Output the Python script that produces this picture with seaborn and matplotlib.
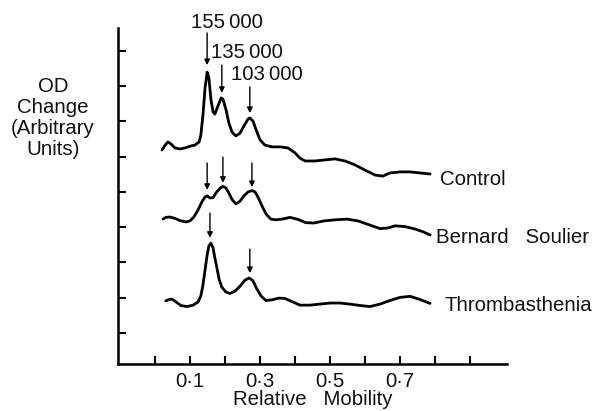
import matplotlib
matplotlib.use("Agg")
import matplotlib.pyplot as plt
import seaborn as sns
import pandas as pd

# ---- data (relative mobility, OD change in arbitrary units) ----
control_x = [0.020, 0.029, 0.037, 0.046, 0.057, 0.071, 0.086, 0.100, 0.114, 0.126,
             0.131, 0.137, 0.143, 0.149, 0.154, 0.160, 0.166, 0.171, 0.180, 0.189,
             0.194, 0.203, 0.211, 0.220, 0.231, 0.243, 0.254, 0.266, 0.271, 0.280,
             0.289, 0.300, 0.314, 0.334, 0.357, 0.380, 0.400, 0.414, 0.429, 0.457,
             0.486, 0.514, 0.543, 0.571, 0.600, 0.629, 0.651, 0.671, 0.700, 0.729,
             0.757, 0.786]
control_y = [6.19, 6.33, 6.42, 6.36, 6.25, 6.22, 6.25, 6.30, 6.33, 6.42,
             6.62, 7.18, 7.95, 8.40, 8.23, 7.61, 7.27, 7.21, 7.44, 7.67,
             7.64, 7.33, 6.96, 6.70, 6.59, 6.67, 6.87, 7.07, 7.10, 7.01,
             6.76, 6.48, 6.33, 6.28, 6.28, 6.25, 6.11, 5.96, 5.88, 5.88,
             5.91, 5.94, 5.88, 5.77, 5.62, 5.48, 5.45, 5.54, 5.57, 5.57,
             5.54, 5.51]

bernard_x = [0.023, 0.031, 0.043, 0.057, 0.071, 0.089, 0.100, 0.111, 0.123, 0.134,
             0.143, 0.149, 0.157, 0.166, 0.174, 0.186, 0.194, 0.203, 0.211, 0.220,
             0.231, 0.243, 0.254, 0.266, 0.277, 0.286, 0.294, 0.306, 0.317, 0.331,
             0.346, 0.363, 0.386, 0.409, 0.431, 0.454, 0.483, 0.514, 0.549, 0.580,
             0.609, 0.643, 0.666, 0.686, 0.714, 0.743, 0.766, 0.786]
bernard_y = [4.23, 4.28, 4.29, 4.25, 4.19, 4.15, 4.18, 4.29, 4.49, 4.72,
             4.86, 4.89, 4.83, 4.84, 4.97, 5.11, 5.16, 5.11, 4.97, 4.79,
             4.66, 4.74, 4.89, 5.00, 5.04, 5.00, 4.86, 4.60, 4.38, 4.23,
             4.21, 4.23, 4.28, 4.22, 4.13, 4.12, 4.18, 4.21, 4.23, 4.18,
             4.08, 3.96, 3.98, 4.04, 4.02, 3.95, 3.87, 3.78]

thromb_x = [0.031, 0.040, 0.049, 0.060, 0.074, 0.091, 0.109, 0.123, 0.131, 0.137,
            0.143, 0.149, 0.154, 0.160, 0.166, 0.171, 0.177, 0.183, 0.191, 0.203,
            0.214, 0.229, 0.243, 0.257, 0.269, 0.280, 0.291, 0.303, 0.317, 0.334,
            0.354, 0.371, 0.394, 0.414, 0.443, 0.471, 0.500, 0.529, 0.557, 0.586,
            0.614, 0.643, 0.671, 0.700, 0.729, 0.757, 0.786]
thromb_y = [1.91, 1.95, 1.96, 1.88, 1.78, 1.75, 1.79, 1.88, 2.05, 2.36,
            2.79, 3.21, 3.47, 3.55, 3.41, 3.13, 2.84, 2.53, 2.30, 2.16,
            2.12, 2.19, 2.33, 2.50, 2.56, 2.48, 2.25, 2.05, 1.92, 1.94,
            1.99, 1.98, 1.88, 1.79, 1.79, 1.82, 1.85, 1.85, 1.82, 1.78,
            1.75, 1.82, 1.92, 2.01, 2.04, 1.95, 1.84]

trace_names = ["Control", "Bernard   Soulier", "Thrombasthenia"]
trace_label_pos = [(0.814, 5.20), (0.803, 3.54), (0.826, 1.63)]

# arrows: (x, tail_y, head_y)
arrows = [(0.149, 9.51, 8.60), (0.191, 8.60, 7.81), (0.271, 7.98, 7.24),
          (0.149, 5.82, 5.06), (0.194, 5.99, 5.26), (0.277, 5.82, 5.14),
          (0.157, 4.40, 3.70), (0.271, 3.38, 2.70)]
mw_labels = ["155\u2009000", "135\u2009000", "103\u2009000"]
mw_label_pos = [(0.206, 9.652), (0.263, 8.80), (0.320, 8.18)]

xtick_vals = [0.0, 0.1, 0.2, 0.3, 0.4, 0.5, 0.6, 0.7, 0.8, 0.9]
xtick_text = ["", "0\u00b71", "", "0\u00b73", "", "0\u00b75", "", "0\u00b77", "", ""]
ytick_vals = [1, 2, 3, 4, 5, 6, 7, 8, 9]

# ---- styling ----
sns.set_theme(style="ticks")
plt.rcParams['font.family'] = ['Liberation Sans', 'DejaVu Sans']
FS = 14.7

fig = plt.figure(figsize=(5.95, 4.11), dpi=100)
ax = fig.add_axes([118 / 595, 1 - 364 / 411, (507 - 118) / 595, (364 - 28) / 411])

df = pd.concat([
    pd.DataFrame({"mobility": control_x, "od": control_y, "sample": "Control"}),
    pd.DataFrame({"mobility": bernard_x, "od": bernard_y, "sample": "Bernard Soulier"}),
    pd.DataFrame({"mobility": thromb_x, "od": thromb_y, "sample": "Thrombasthenia"}),
], ignore_index=True)

sns.lineplot(data=df, x="mobility", y="od", units="sample", estimator=None,
             sort=False, color="black", lw=2.0, ax=ax, legend=False)

for name, (tx, ty) in zip(trace_names, trace_label_pos):
    ax.text(tx, ty, name, fontsize=FS, ha="left", va="baseline", color="#111111")

for (x, y0, y1) in arrows:
    ax.annotate("", xy=(x, y1), xytext=(x, y0),
                arrowprops=dict(arrowstyle="-|>", lw=1.0, color="black",
                                mutation_scale=8, shrinkA=0, shrinkB=0),
                annotation_clip=False)

for lab, (lx, ly) in zip(mw_labels, mw_label_pos):
    ax.text(lx, ly, lab, fontsize=FS, ha="center", va="baseline",
            color="#111111", clip_on=False)

ax.set_xlim(-0.1057, 1.0057)
ax.set_ylim(0.1206, 9.652)
ax.set_xticks(xtick_vals)
ax.set_xticklabels(xtick_text, fontsize=FS, color="#111111")
ax.set_yticks(ytick_vals)
ax.set_yticklabels([])
ax.tick_params(axis="both", direction="in", length=6, width=1.5, color="black")
ax.tick_params(axis="x", pad=5.5)
ax.set_xlabel("")
ax.set_ylabel("")
sns.despine(ax=ax)
for s in ["left", "bottom"]:
    ax.spines[s].set_linewidth(1.8)
    ax.spines[s].set_color("black")

fig.text(53 / 595, 1 - 118 / 411, "OD\nChange\n(Arbitrary\nUnits)", fontsize=FS,
         ha="center", va="center", linespacing=1.13, color="#111111")
fig.text(313 / 595, 1 - 405 / 411, "Relative   Mobility", fontsize=FS,
         ha="center", va="baseline", color="#111111")

fig.savefig("out.png", dpi=100, facecolor="white")
